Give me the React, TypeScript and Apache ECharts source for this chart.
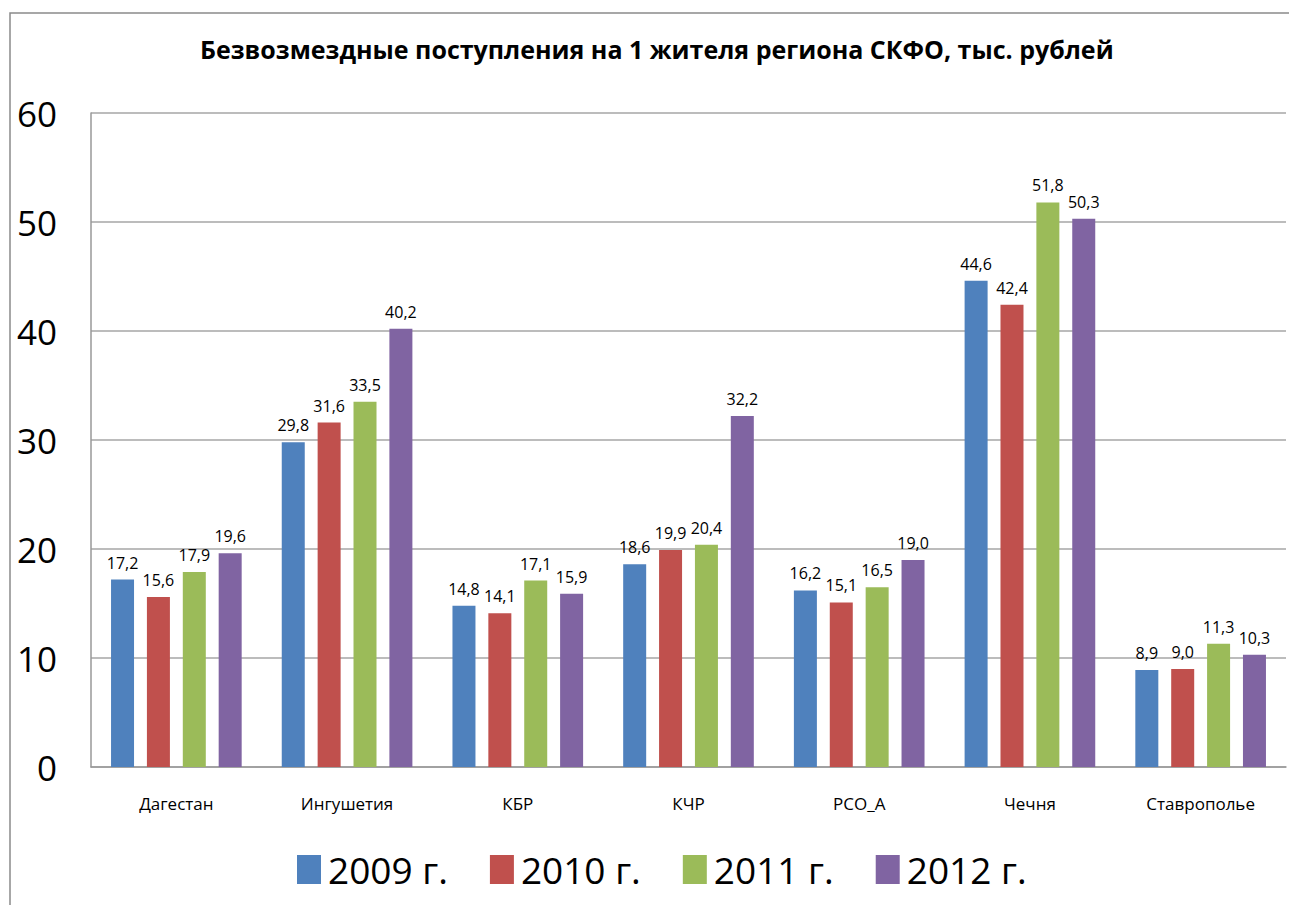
import React, { useEffect, useRef } from "react";
import * as echarts from "echarts";

const categories = ["Дагестан", "Ингушетия", "КБР", "КЧР", "РСО_А", "Чечня", "Ставрополье"];
const seriesNames = ["2009 г.", "2010 г.", "2011 г.", "2012 г."];
const values2009 = [17.2, 29.8, 14.8, 18.6, 16.2, 44.6, 8.9];
const values2010 = [15.6, 31.6, 14.1, 19.9, 15.1, 42.4, 9.0];
const values2011 = [17.9, 33.5, 17.1, 20.4, 16.5, 51.8, 11.3];
const values2012 = [19.6, 40.2, 15.9, 32.2, 19.0, 50.3, 10.3];
const colors = ["#4F81BD", "#C0504D", "#9BBB59", "#8064A2"];
const titleText = "Безвозмездные поступления на 1 жителя региона СКФО, тыс. рублей";

const FONT = "'Open Sans', 'Noto Sans', sans-serif";

export default function App() {
  const ref = useRef<HTMLDivElement>(null);
  useEffect(() => {
    if (!ref.current) return;
    const chart = echarts.init(ref.current, null, { renderer: "svg" });
    const all = [values2009, values2010, values2011, values2012];
    chart.setOption({
      animation: false,
      backgroundColor: "#ffffff",
      title: {
        text: titleText,
        left: 195,
        top: 31,
        textStyle: { fontFamily: FONT, fontWeight: "bold", fontSize: 25, color: "#000" },
      },
      graphic: [
        {
          type: "rect",
          shape: { x: 10, y: 13, width: 1300, height: 950 },
          style: { fill: "none", stroke: "#8a8a8a", lineWidth: 1.5 },
          silent: true,
        },
      ],
      legend: {
        data: seriesNames,
        left: 292,
        top: 846,
        itemWidth: 24,
        itemHeight: 29,
        itemGap: 42,
        icon: "rect",
        textStyle: { fontFamily: FONT, fontSize: 37, color: "#000", padding: [0, 0, 0, 2] },
      },
      grid: { left: 91, right: 3, top: 113, bottom: 138, containLabel: false },
      xAxis: {
        type: "category",
        data: categories,
        axisLine: { show: true, lineStyle: { color: "#999", width: 1.5 } },
        axisTick: { show: false },
        axisLabel: { fontFamily: FONT, fontSize: 17, color: "#000", margin: 28 },
      },
      yAxis: {
        type: "value",
        min: 0,
        max: 60,
        interval: 10,
        axisLine: { show: true, lineStyle: { color: "#999", width: 1.5 } },
        axisTick: { show: false },
        splitLine: { show: true, lineStyle: { color: "#a6a6a6", width: 1.5 } },
        axisLabel: { fontFamily: FONT, fontSize: 35, color: "#000", margin: 34 },
      },
      series: all.map((vals, i) => ({
        name: seriesNames[i],
        type: "bar",
        data: vals,
        barWidth: 23,
        barGap: "56%",
        barCategoryGap: "23%",
        itemStyle: { color: colors[i] },
        label: {
          show: true,
          position: "top",
          distance: 9,
          fontFamily: FONT,
          fontSize: 16,
          color: "#000",
          formatter: (p: any) => Number(p.value).toFixed(1).replace(".", ","),
        },
      })),
    });
    return () => chart.dispose();
  }, []);
  return (
    <div
      ref={ref}
      style={{ position: "fixed", left: 0, top: 0, width: 1289, height: 905 }}
    />
  );
}
